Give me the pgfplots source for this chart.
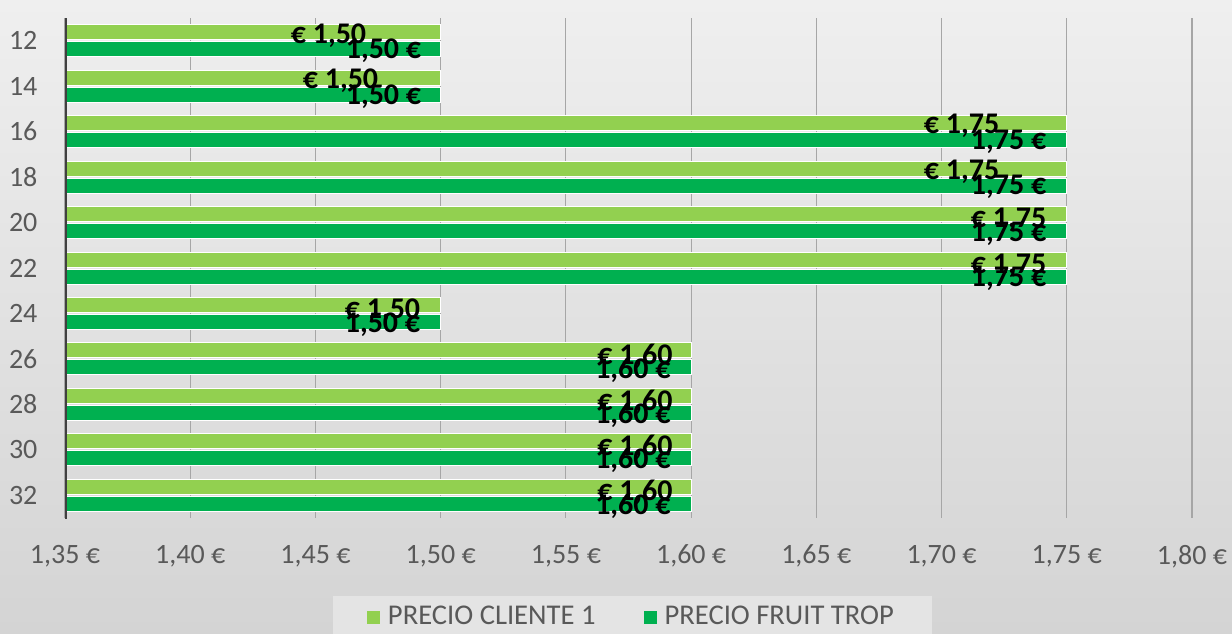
\documentclass[border=0pt]{standalone}
\usepackage{pgfplots}
\pgfplotsset{compat=1.18}
\usepackage{pgfplotstable}
\usepackage{fontspec}
\setmainfont{Carlito}
\definecolor{lightg}{HTML}{92D050}
\definecolor{darkg}{HTML}{00B050}
\definecolor{txt}{HTML}{595959}
\definecolor{bgtop}{HTML}{EFEFEF}
\definecolor{bgbot}{HTML}{D4D4D4}
\definecolor{legfill}{HTML}{E4E4E4}
\definecolor{gridc}{HTML}{A6A6A6}

\pgfplotstableread{
y  cli  ft   dxa   dya   dxb   dyb
12 1.50 1.50 -37   -1.5  -9.5  -0.8
14 1.50 1.50 -31   -1.5  -9.5  -0.8
16 1.75 1.75 -33.5 -1.5  -10   -0.8
18 1.75 1.75 -33.5 -1.5  -10   -0.8
20 1.75 1.75 -10   -3    -10   -1.2
22 1.75 1.75 -10   -3    -10   -1.2
24 1.50 1.50 -10   -3    -10   -1.2
26 1.60 1.60 -9    -3    -10   -1.2
28 1.60 1.60 -9    -3    -10   -1.2
30 1.60 1.60 -9    -3    -10   -1.2
32 1.60 1.60 -9    -3    -10   -1.2
}\data

\begin{document}
\begin{tikzpicture}
\shade[top color=bgtop, bottom color=bgbot] (0,0) rectangle (616pt,316.5pt);
\path[use as bounding box] (0,0) rectangle (616pt,316.5pt);
\begin{axis}[
  at={(32.5pt,57.5pt)}, anchor=south west,
  width=563.5pt, height=250pt, scale only axis,
  xbar, bar width=7.5pt,
  xmin=1.35, xmax=1.80,
  xtick={1.35,1.40,1.45,1.50,1.55,1.60,1.65,1.70,1.75,1.80},
  ymin=11, ymax=33, y dir=reverse,
  ytick={12,14,16,18,20,22,24,26,28,30,32},
  xmajorgrids, grid style={draw=gridc, line width=0.6pt},
  axis line style={draw=none},
  tick style={draw=none},
  /pgf/number format/assume math mode=true,
  ticklabel style={font=\fontsize{14}{14}\selectfont, text=txt},
  xticklabel={\pgfmathprintnumber[fixed,fixed zerofill,precision=2,use comma]{\tick}~€},
  yticklabel style={xshift=-6pt},
  xticklabel style={yshift=-10pt},
  legend style={at={(0.5035,-0.198)}, anchor=center, legend columns=2,
    draw=none, fill=legfill, font=\fontsize{14.3}{16}\selectfont, text=txt,
    inner xsep=17pt, inner ysep=3pt,
    /tikz/every even column/.append style={column sep=22pt}},
  legend image code/.code={\path[#1, draw=none] (0pt,-3.25pt) rectangle (6.5pt,3.25pt);
    \path[draw=none, fill=none] (0pt,0pt) -- (8.5pt,0pt);},
  point meta=x,
]
\addplot[fill=lightg, draw=white, line width=0.5pt, bar shift=4.25pt,
  visualization depends on={\thisrow{dxa} \as \dx},
  visualization depends on={\thisrow{dya} \as \dy},
  nodes near coords={€~\pgfmathprintnumber[fixed,fixed zerofill,precision=2,use comma]{\pgfplotspointmeta}},
  nodes near coords style={anchor=east, inner sep=0pt, xshift=\dx pt, yshift=\dy pt, text=black,
    font=\bfseries\fontsize{15}{15}\selectfont}]
  table[x=cli, y=y] {\data};
\addplot[fill=darkg, draw=white, line width=0.5pt, bar shift=-4.25pt,
  visualization depends on={\thisrow{dxb} \as \dx},
  visualization depends on={\thisrow{dyb} \as \dy},
  nodes near coords={\pgfmathprintnumber[fixed,fixed zerofill,precision=2,use comma]{\pgfplotspointmeta}~€},
  nodes near coords style={anchor=east, inner sep=0pt, xshift=\dx pt, yshift=\dy pt, text=black,
    font=\bfseries\fontsize{15}{15}\selectfont}]
  table[x=ft, y=y] {\data};
\draw[black!75, line width=2pt] (rel axis cs:0,-0.004) -- (rel axis cs:0,1);
\legend{PRECIO CLIENTE 1, PRECIO FRUIT TROP}
\end{axis}
\end{tikzpicture}
\end{document}
